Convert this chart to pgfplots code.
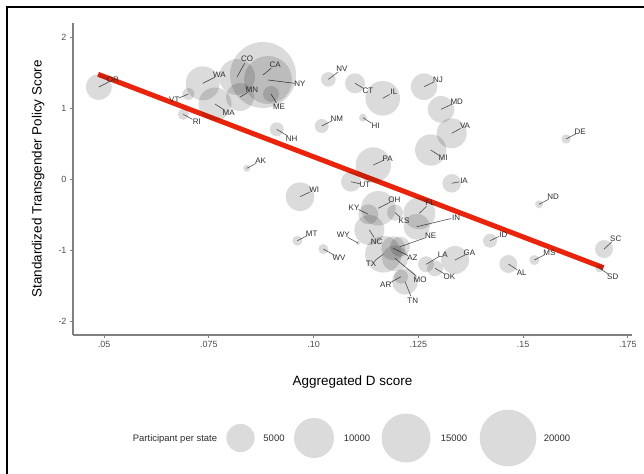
\documentclass[border=0pt]{standalone}
\usepackage{pgfplots}
\pgfplotsset{compat=1.18}
\usepackage{pgfplotstable}
\usepackage{fontspec}
\setmainfont{Liberation Sans}
\definecolor{axgray}{RGB}{128,128,128}
\definecolor{tickgray}{RGB}{77,77,77}
\definecolor{fitred}{RGB}{235,35,10}
\definecolor{labgray}{RGB}{45,45,45}
\definecolor{segcol}{RGB}{85,85,85}
\pgfplotstableread{
st x y n lx ly
OR 0.04876 1.300 4225 14 7
WA 0.07356 1.352 7225 16.6 8.3
VT 0.07012 1.201 900 -14 -6
RI 0.06893 0.915 756 13.4 -7.4
MA 0.07649 1.061 6806 13.7 -9
CO 0.08174 1.441 8100 10 18
MN 0.08246 1.159 4900 12 7
CA 0.08795 1.469 27225 12 10
NY 0.08914 1.399 14400 32 -4
ME 0.08986 1.201 1600 8 -13
NV 0.10353 1.408 1332 13.7 10.3
CT 0.10990 1.352 2500 13 -7.7
IL 0.11652 1.141 7482 11.3 6.3
NJ 0.12637 1.304 4422 14 6.7
MD 0.13043 0.986 4422 15.7 7.3
VA 0.13298 0.648 5625 13.3 7.3
MI 0.12797 0.413 6162 12.3 -8
IA 0.13298 -0.056 2162 12.3 2.3
DE 0.16026 0.568 552 14 7.3
ND 0.15382 -0.352 400 14 7.3
NM 0.10196 0.751 1225 15 7.7
HI 0.11181 0.868 400 12.7 -8.3
NH 0.09122 0.704 1225 15 -9
PA 0.11427 0.201 7832 14.4 6.7
UT 0.10895 -0.034 2500 14 -3.3
WI 0.09678 -0.245 5112 14.3 6.7
AK 0.08406 0.155 306 14 7.3
OH 0.11547 -0.408 7482 16 8.3
KY 0.11308 -0.493 2500 -14.3 7
KS 0.11945 -0.470 1600 9 -8
FL 0.12525 -0.479 6400 10.7 10.6
IN 0.12463 -0.668 4225 39.3 9.4
NC 0.11332 -0.714 5625 7.4 -11.7
WY 0.11062 -0.897 100 -14.7 8
MT 0.09613 -0.865 625 14.4 7.4
WV 0.10234 -0.982 625 15.7 -8.7
TX 0.11666 -1.056 8372 -12.3 -9
AZ 0.11905 -0.972 3600 19 -9.4
NE 0.12064 -0.949 2500 30.7 10.7
MO 0.11945 -1.113 4225 25 -21
AR 0.12088 -1.372 1225 -15.3 -8.3
TN 0.12184 -1.442 4225 7.7 -19
LA 0.12685 -1.197 1600 16.7 10
OK 0.12900 -1.254 1600 14.3 -8.4
GA 0.13377 -1.137 4900 14.3 7.3
ID 0.14212 -0.865 1225 13.3 6.4
AL 0.14649 -1.193 2025 13.4 -8.7
MS 0.15270 -1.137 625 15 7.7
SC 0.16933 -0.982 2025 11.7 10.7
SD 0.16821 -1.254 400 13.4 -8.4
}\states
\pgfplotstableread{
x y n
240.5 36 5000
314 36 10000
406 36 15000
508 36 20000
}\legtab
\pgfplotsset{
  bubbles/.style={scatter, only marks, mark=*,
    visualization depends on={0.2*sqrt(\thisrow{n}) \as \rad},
    scatter/use mapped color={draw opacity=0, fill=black, fill opacity=0.14},
    mark options={draw opacity=0, fill=black, fill opacity=0.14},
    scatter/@pre marker code/.append style={/tikz/mark size=\rad bp, /tikz/draw opacity=0}},
}
\begin{document}
\begin{tikzpicture}
\path[use as bounding box] (0bp,0bp) rectangle (644bp,474bp);
\draw[line width=1.5bp] (7bp,0bp) -- (7bp,467bp) -- (644bp,467bp);
\begin{axis}[
  at={(73bp,139bp)}, anchor=south west,
  scale only axis, width=559bp, height=312.3bp,
  xmin=0.0426, xmax=0.1760, ymin=-2.193, ymax=2.206,
  axis x line*=bottom, axis y line*=left,
  axis line style={draw=axgray, line width=1.2bp, -},
  xtick={0.05,0.075,0.1,0.125,0.15,0.175},
  xticklabels={.05,.075,.10,.125,.15,.175},
  ytick={-2,-1,0,1,2},
  tick align=outside, major tick length=3bp,
  tick style={draw=axgray, line width=0.8bp},
  ticklabel style={font=\fontsize{9}{10}\selectfont, text=tickgray},
  /pgf/number format/assume math mode=true,
  clip=false,
]
\addplot[bubbles] table[x=x, y=y] {\states};
\addplot[fitred, line width=5bp] coordinates {(0.0486,1.479) (0.1692,-1.245)};
\addplot[segcol, line width=0.6bp, -, quiver={
   u={\thisrow{lx}*(1-5/veclen(\thisrow{lx},\thisrow{ly}))/4190},
   v={\thisrow{ly}*(1-5/veclen(\thisrow{lx},\thisrow{ly}))/71}}]
  table[x=x, y=y] {\states};
\addplot[only marks, mark=none,
  nodes near coords, point meta=explicit symbolic,
  visualization depends on={\thisrow{lx} \as \lx},
  visualization depends on={\thisrow{ly} \as \ly},
  every node near coord/.append style={anchor=center, xshift=\lx bp, yshift=\ly bp,
     font=\fontsize{8}{9}\selectfont, text=labgray, inner sep=0pt}]
  table[x=x, y=y, meta=st] {\states};
\end{axis}
\node[rotate=90, anchor=base, font=\fontsize{13.5}{16}\selectfont] at (41.5bp,295bp) {Standardized Transgender Policy Score};
\node[anchor=base, font=\fontsize{13.5}{16}\selectfont] at (352.5bp,88bp) {Aggregated D score};
\begin{axis}[
  at={(0bp,0bp)}, anchor=south west,
  scale only axis, width=644bp, height=100bp,
  xmin=0, xmax=644, ymin=0, ymax=100,
  hide axis, clip=false,
]
\addplot[bubbles] table[x=x, y=y] {\legtab};
\end{axis}
\begin{scope}[every node/.style={anchor=base, font=\fontsize{9.5}{11}\selectfont, text=labgray}]
\node at (175bp,32.6bp) {Participant per state};
\node at (274bp,32.6bp) {5000};
\node at (357bp,32.6bp) {10000};
\node at (454bp,32.6bp) {15000};
\node at (557bp,32.6bp) {20000};
\end{scope}
\end{tikzpicture}
\end{document}
